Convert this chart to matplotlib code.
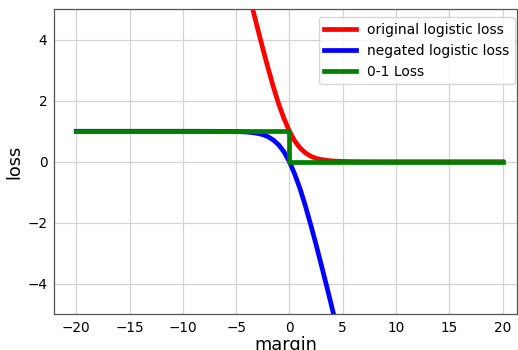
import matplotlib
matplotlib.use("Agg")
import matplotlib.pyplot as plt

# margin values sampled along the curves
margin = [-20, -15, -10, -8, -6, -5, -4, -3.5, -3, -2.5, -2, -1.5, -1, -0.5,
          0, 0.5, 1, 1.5, 2, 2.5, 3, 3.5, 4, 4.5, 5, 6, 8, 10, 15, 20]

original_loss = [28.85, 21.64, 14.43, 11.54, 8.66, 7.22, 5.80, 5.09, 4.40, 3.72,
                 3.07, 2.45, 1.89, 1.41, 1.00, 0.68, 0.45, 0.29, 0.18, 0.11,
                 0.07, 0.043, 0.026, 0.016, 0.0097, 0.0036, 0.0005, 0.0001, 0.0, 0.0]

negated_loss = [1.00, 1.00, 1.00, 0.9995, 0.996, 0.99, 0.974, 0.957, 0.93, 0.89,
                0.82, 0.71, 0.55, 0.32, 0.0, -0.41, -0.89, -1.45, -2.07, -2.72,
                -3.40, -4.09, -4.80, -5.51, -6.22, -7.66, -10.54, -13.43, -20.64, -27.85]

zero_one_x = [-20, 0, 0, 20]
zero_one_y = [1, 1, 0, 0]

fig = plt.figure(figsize=(5.18, 3.5), dpi=100)
ax = fig.add_axes([0.105, 0.103, 0.893, 0.870])

ax.plot(margin, original_loss, color="red", lw=3.4, label="original logistic loss")
ax.plot(margin, negated_loss, color="blue", lw=3.4, label="negated logistic loss")
ax.plot(zero_one_x, zero_one_y, color="green", lw=3.4, label="0-1 Loss")

ax.set_xlim(-22.05, 21.35)
ax.set_ylim(-5, 5)
ax.set_xticks([-20, -15, -10, -5, 0, 5, 10, 15, 20])
ax.set_yticks([-4, -2, 0, 2, 4])
ax.grid(True, color="#d3d3d3", lw=0.9)
ax.set_axisbelow(True)
ax.tick_params(length=0, labelsize=9.8, pad=5)
for s in ax.spines.values():
    s.set_color("#555555")
    s.set_linewidth(0.9)

ax.set_xlabel("margin", fontsize=12.8, labelpad=1)
ax.set_ylabel("loss", fontsize=12.8, labelpad=3)
ax.legend(loc="upper right", bbox_to_anchor=(0.996, 0.975), borderaxespad=0,
          fontsize=10, handlelength=2.3)

fig.savefig("out.png", dpi=100)
